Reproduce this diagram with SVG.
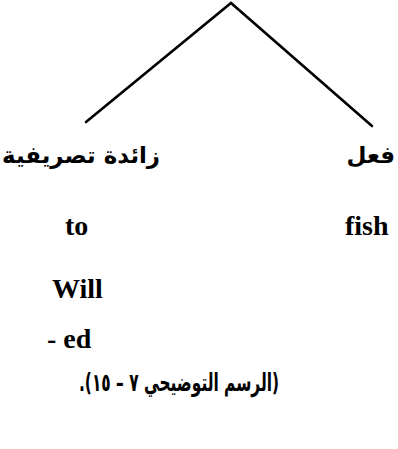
<svg xmlns="http://www.w3.org/2000/svg" width="398" height="449" viewBox="0 0 398 449">
<style>
.edge{fill:none;stroke:#000;stroke-width:2.6;stroke-linecap:round;stroke-linejoin:miter}
.ar{font-family:"DejaVu Sans","Noto Sans",sans-serif;font-weight:bold;font-size:23px;fill:#000}
.cap{font-size:25px}
.en{font-family:"Liberation Serif",serif;font-weight:bold;font-size:28px;fill:#000}
</style>
<rect width="398" height="449" fill="#fff"/>
<g id="connectors">
<path class="edge" d="M86,122 L231,3 L372,126"/>
</g>
<g id="node-affix">
<text class="ar" x="2" y="163" text-anchor="end" direction="rtl" textLength="158" lengthAdjust="spacingAndGlyphs">زائدة تصريفية</text>
<text class="en" x="65" y="235">to</text>
<text class="en" x="52" y="298">Will</text>
<text class="en" x="47" y="348">- ed</text>
</g>
<g id="node-verb">
<text class="ar" x="395" y="163" text-anchor="start" direction="rtl">فعل</text>
<text class="en" x="345" y="235">fish</text>
</g>
<g id="caption">
<text class="ar cap" x="79" y="391" text-anchor="end" direction="rtl" textLength="200" lengthAdjust="spacingAndGlyphs">(الرسم التوضيحي ٧ – ١٥).</text>
</g>
</svg>
